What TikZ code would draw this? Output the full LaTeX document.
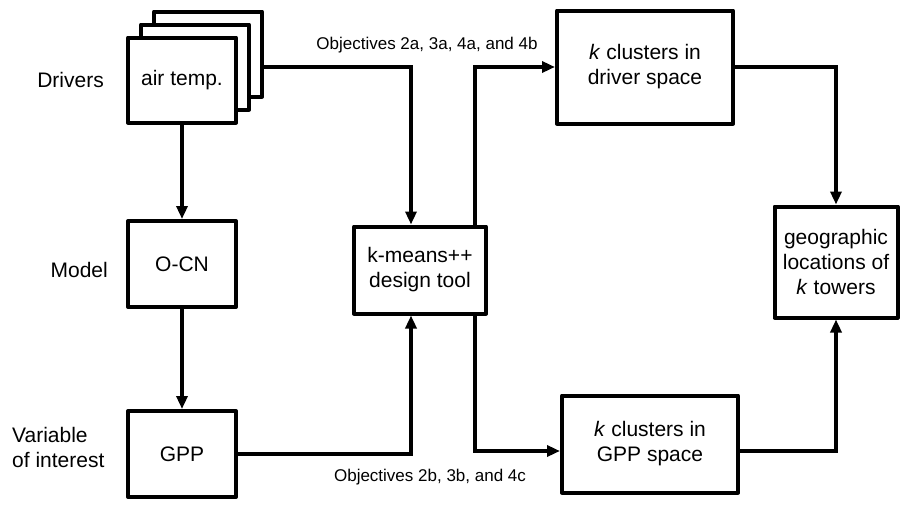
\documentclass[tikz,border=0pt]{standalone}
\usepackage{fontspec}
\setmainfont{Liberation Sans}
\usetikzlibrary{arrows.meta,calc}
\newcommand\mymainfs{\fontsize{21}{25}\selectfont}
\newcommand\myobjfs{\fontsize{17}{20}\selectfont}
\begin{document}
\begin{tikzpicture}[x=1pt,y=-1pt,
  box/.style={draw, line width=4pt, fill=white, inner sep=0pt, align=center, font=\mymainfs, line join=round},
  conn/.style={line width=3.5pt, -{Triangle[length=13pt,width=11pt]}},
  lbl/.style={font=\mymainfs, inner sep=0pt},
  obj/.style={font=\myobjfs, inner sep=0pt}]
\useasboundingbox (0,0) rectangle (900,506);
% driver stack
\node[box, minimum width=108pt, minimum height=85pt] (back) at (208,54) {};
\node[box, minimum width=108pt, minimum height=85pt] (mid) at (195,67) {};
\node[box, minimum width=108pt, minimum height=85pt] (front) at (182,80) {air temp.};
\node[box, minimum width=108pt, minimum height=86pt] (ocn) at (182,264) {O-CN};
\node[box, minimum width=108pt, minimum height=86pt] (gpp) at (182,454) {GPP};
\node[box, minimum width=132pt, minimum height=87pt] (km) at (420,270) {k-means++\\design tool};
\node[box, minimum width=176pt, minimum height=113pt] (drv) at (645,67) {\textit{k} clusters in\\driver space};
\node[box, minimum width=176pt, minimum height=97pt] (gsp) at (650,444) {\textit{k} clusters in\\GPP space};
\node[box, minimum width=123pt, minimum height=111pt] (geo) at (836,262) {geographic\\locations of\\\textit{k} towers};
% labels
\node[lbl, anchor=east] (ldrv) at (104,80) {Drivers};
\node[lbl, anchor=east] (lmod) at (108,270) {Model};
\node[lbl, anchor=west, align=left] (lvar) at (12,447) {Variable\\of interest};
\node[obj] (o1) at (427,45) {Objectives 2a, 3a, 4a, and 4b};
\node[obj] (o2) at (430,477) {Objectives 2b, 3b, and 4c};
% connectors
\draw[conn] (front) -- (ocn);
\draw[conn] (ocn) -- (gpp);
\draw[conn] (back.east |- mid.center) -| ([xshift=-9pt]km.north);
\draw[conn] ([xshift=55pt]km.north) |- (drv.west);
\draw[conn] (gpp.east) -| ([xshift=-9pt]km.south);
\coordinate (gin) at ($(gsp.west)+(0,7)$);
\coordinate (gout) at ($(gsp.east)+(0,7)$);
\draw[conn] ([xshift=55pt]km.south) |- (gin);
\draw[conn] (drv.east) -| (geo.north);
\draw[conn] (gout) -| (geo.south);
\end{tikzpicture}
\end{document}
